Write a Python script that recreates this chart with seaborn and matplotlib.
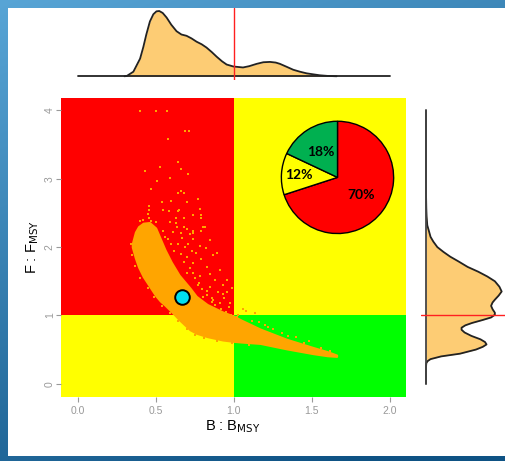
import numpy as np
import matplotlib
matplotlib.use("Agg")
import matplotlib.pyplot as plt
import seaborn as sns
import pandas as pd
from matplotlib.patches import Rectangle

sns.set_style("white")
plt.rcParams["font.family"] = ["Liberation Sans", "DejaVu Sans"]

# ---- stock status data -------------------------------------------------
# dense core of the Kobe cloud: B/Bmsy positions with lower / upper F/Fmsy edges
band_b = [0.35, 0.37, 0.39, 0.42, 0.46, 0.50, 0.53, 0.56, 0.60, 0.65, 0.72,
          0.76, 0.83, 0.93, 1.00, 1.05, 1.17, 1.34, 1.51, 1.60, 1.66]
band_f_lo = [2.00, 1.84, 1.71, 1.57, 1.43, 1.29, 1.21, 1.15, 1.06, 0.94, 0.79,
             0.74, 0.69, 0.64, 0.62, 0.61, 0.59, 0.51, 0.44, 0.41, 0.40]
band_f_hi = [2.05, 2.22, 2.30, 2.35, 2.36, 2.28, 2.12, 1.96, 1.78, 1.59, 1.40,
             1.28, 1.16, 1.05, 0.99, 0.93, 0.80, 0.65, 0.53, 0.47, 0.42]

# scattered draws outside the dense core
scatter_b = [0.40, 0.50, 0.57, 0.69, 0.715, 0.58, 0.645, 0.43, 0.53, 0.66, 0.705,
             0.594, 0.506, 0.47, 0.664, 0.645, 0.68, 0.77, 0.54, 0.596, 0.70,
             0.46, 0.65, 0.64, 0.786, 0.545, 0.585, 0.46, 0.45, 0.79, 0.68, 0.63,
             0.74, 0.79, 0.47, 0.50, 0.816, 0.59, 0.68, 0.74, 0.79, 0.55, 0.66,
             0.72, 0.56, 0.74, 0.635, 0.699, 0.741, 0.805, 0.848, 0.784, 0.891,
             0.699, 0.741, 0.827, 0.912, 0.955, 0.848, 0.784, 0.933, 0.976,
             0.869, 0.805, 0.60, 0.62, 0.66, 0.68, 0.72, 0.70, 0.75, 0.77, 0.80,
             0.83, 0.86, 0.88, 0.92, 0.95, 0.97, 0.90, 0.93, 0.96, 0.98, 1.06,
             1.08, 1.14, 1.02, 1.12, 1.20, 1.25, 1.29, 1.35, 1.45, 1.62, 0.58,
             0.64, 0.73, 0.79, 0.85, 0.88, 0.34, 0.35, 0.37, 0.40, 0.45, 0.49,
             0.54, 0.59, 0.64, 0.70, 0.75, 0.81, 0.89, 0.99, 1.10, 0.42, 0.46,
             0.40, 0.82, 0.87, 0.94, 0.99, 1.03, 1.16, 0.61, 0.67, 0.71, 0.76,
             0.63, 0.69, 0.74, 0.78, 0.83, 0.86, 0.91, 0.95, 1.04, 1.09, 1.22,
             1.31, 1.40, 1.48, 1.56]
scatter_f = [3.99, 3.99, 3.99, 3.70, 3.70, 3.58, 3.24, 3.11, 3.17, 3.14, 3.07,
             3.01, 2.97, 2.85, 2.82, 2.79, 2.79, 2.70, 2.66, 2.68, 2.66,
             2.60, 2.55, 2.53, 2.56, 2.54, 2.53, 2.55, 2.48, 2.47, 2.43, 2.43,
             2.47, 2.42, 2.38, 2.37, 2.29, 2.37, 2.30, 2.24, 2.24, 2.23, 2.20,
             2.19, 2.15, 2.12, 2.30, 2.27, 2.20, 2.30, 2.10, 2.01, 1.91,
             1.86, 1.76, 1.71, 1.66, 1.52, 1.42, 1.57, 1.32, 1.18,
             1.22, 1.27, 2.05, 1.95, 1.90, 1.78, 1.70, 1.62, 1.55, 1.45, 1.38,
             1.30, 1.25, 1.15, 1.10, 1.05, 1.12, 1.35, 1.45, 1.35, 1.00, 1.09,
             1.07, 1.04, 0.98, 0.92, 0.86, 0.80, 0.66, 0.70, 0.60, 0.48, 2.12,
             2.05, 1.95, 1.82, 1.60, 1.52, 2.05, 1.88, 1.72, 1.55, 1.40, 1.27,
             1.14, 1.04, 0.92, 0.80, 0.72, 0.67, 0.62, 0.59, 0.57, 2.40, 2.42,
             2.38, 1.98, 1.88, 1.25, 1.40, 1.00, 0.90, 2.22, 2.14, 2.04, 1.92,
             2.36, 2.00, 1.62, 1.48, 1.36, 1.20, 1.18, 0.99, 0.94, 0.88, 0.83,
             0.74, 0.68, 0.62, 0.52]

# current (terminal year) estimate
current_b = [0.667]
current_f = [1.274]

# marginal densities (relative heights)
dens_b_x = [0.30, 0.315, 0.357, 0.40, 0.421, 0.44, 0.463, 0.485, 0.505, 0.523,
            0.545, 0.57, 0.60, 0.634, 0.665, 0.698, 0.73, 0.762, 0.795, 0.826,
            0.86, 0.891, 0.925, 0.955, 0.998, 1.06, 1.10, 1.147, 1.19, 1.233,
            1.27, 1.297, 1.34, 1.382, 1.425, 1.468, 1.51, 1.553, 1.60, 1.66]
dens_b_y = [0.0, 0.005, 0.07, 0.27, 0.45, 0.64, 0.84, 0.95, 0.995, 1.0,
            0.97, 0.90, 0.79, 0.69, 0.64, 0.62, 0.58, 0.53, 0.49, 0.44,
            0.37, 0.30, 0.23, 0.18, 0.15, 0.135, 0.155, 0.19, 0.215, 0.22,
            0.21, 0.19, 0.145, 0.10, 0.07, 0.045, 0.03, 0.015, 0.006, 0.0]

dens_f_x = [0.0, 0.24, 0.30, 0.33, 0.36, 0.40, 0.44, 0.50, 0.54, 0.575, 0.61,
            0.65, 0.70, 0.75, 0.79, 0.82, 0.855, 0.89, 0.93, 0.97, 1.01, 1.04,
            1.09, 1.14, 1.19, 1.23, 1.29, 1.35, 1.42, 1.50, 1.57, 1.64, 1.71,
            1.79, 1.86, 1.93, 2.00, 2.08, 2.15, 2.23, 2.32, 2.45, 2.57, 2.75,
            3.0, 4.0]
dens_f_y = [0.0, 0.0, 0.004, 0.02, 0.06, 0.20, 0.45, 0.66, 0.75, 0.80, 0.78,
            0.72, 0.60, 0.51, 0.47, 0.47, 0.52, 0.61, 0.74, 0.86, 0.91, 0.91,
            0.88, 0.86, 0.88, 0.91, 0.96, 1.0, 0.97, 0.91, 0.81, 0.69, 0.55,
            0.43, 0.32, 0.23, 0.15, 0.097, 0.06, 0.04, 0.017, 0.008, 0.004, 0.001,
            0.0, 0.0]

# share of draws per status zone
pie_values = [70, 12, 18]
pie_colors = ["#FF0000", "#FFFF00", "#00B050"]

x_ticks = [0.0, 0.5, 1.0, 1.5, 2.0]
y_ticks = [0, 1, 2, 3, 4]

# ---- figure -------------------------------------------------------------
W, H = 505, 461
fig = plt.figure(figsize=(W / 100, H / 100), dpi=100)


def px_axes(x0, y0, x1, y1, **kw):
    """Axes placed by pixel box (top-left origin)."""
    return fig.add_axes([x0 / W, 1 - y1 / H, (x1 - x0) / W, (y1 - y0) / H], **kw)


# blue framed background
bg = fig.add_axes([0, 0, 1, 1], zorder=-10)
gx = np.linspace(0, 1, 200)
gy = np.linspace(0, 1, 200)
GX, GY = np.meshgrid(gx, gy)
t = np.clip(0.35 * GX + 0.75 * GY, 0, 1)[..., None]
light = np.array([88, 165, 214]) / 255
dark = np.array([14, 82, 132]) / 255
bg.imshow(light * (1 - t) + dark * t, aspect="auto", extent=[0, W, H, 0])
bg.add_patch(Rectangle((8, 8), W - 8, 456 - 8, facecolor="white", edgecolor="none"))
bg.set_xlim(0, W)
bg.set_ylim(H, 0)
bg.axis("off")

XLIM = (-0.107, 2.103)
YLIM = (-0.19, 4.187)
orange = "#FFA500"
fill_c = "#FDCC74"

# main Kobe panel
ax = px_axes(61, 97.7, 405.7, 396.7)
ax.set_xlim(*XLIM)
ax.set_ylim(*YLIM)
ax.add_patch(Rectangle((-1, 1), 2, 10, facecolor="#FF0000", edgecolor="none", zorder=0))
ax.add_patch(Rectangle((1, 1), 10, 10, facecolor="#FFFF00", edgecolor="none", zorder=0))
ax.add_patch(Rectangle((-1, -1), 2, 2, facecolor="#FFFF00", edgecolor="none", zorder=0))
ax.add_patch(Rectangle((1, -1), 10, 2, facecolor="#00FF00", edgecolor="none", zorder=0))

ax.fill_between(band_b, band_f_lo, band_f_hi, color=orange, linewidth=1.5,
                edgecolor=orange, zorder=2)
pts = pd.DataFrame({"B": scatter_b, "F": scatter_f})
sns.scatterplot(data=pts, x="B", y="F", ax=ax, color=orange, marker="s", s=4.5,
                linewidth=0, zorder=3)
cur = pd.DataFrame({"B": current_b, "F": current_f})
sns.scatterplot(data=cur, x="B", y="F", ax=ax, color="#00E0F0", s=110,
                edgecolor="black", linewidth=1.4, zorder=5)

ax.set_xticks(x_ticks)
ax.set_xticklabels([f"{v:.1f}" for v in x_ticks])
ax.set_yticks(y_ticks)
ax.set_yticklabels([str(v) for v in y_ticks], rotation=90, va="center")
for s in ax.spines.values():
    s.set_visible(False)
ax.tick_params(axis="both", direction="out", length=3.5, width=0.8, color="#999999",
               labelcolor="#999999", labelsize=7.5)
ax.tick_params(axis="x", pad=3.5, bottom=True)
ax.tick_params(axis="y", pad=1.0, left=True)
ax.set_xlabel("")
ax.set_ylabel("")

fig.text(233 / W, 1 - 430.5 / H, r"B : B$_{\mathrm{MSY}}$", ha="center",
         va="baseline", fontsize=10.5, color="black")
fig.text(33 / W, 1 - 247 / H, r"F : F$_{\mathrm{MSY}}$", ha="center", va="center",
         fontsize=10.5, color="black", rotation=90)

# top marginal: B/Bmsy density
axt = px_axes(61, 8, 405.7, 80)
axt.set_xlim(*XLIM)
axt.set_ylim(-0.057, 1.046)
axt.fill_between(dens_b_x, 0, dens_b_y, color=fill_c, linewidth=0)
sns.lineplot(x=dens_b_x, y=dens_b_y, ax=axt, color="#222222", linewidth=1.3,
             sort=False, estimator=None)
axt.plot([0, 2.0], [0, 0], color="#222222", linewidth=1.3)
axt.axvline(1.0, color="#FF2020", linewidth=1.0)
axt.axis("off")

# right marginal: F/Fmsy density
axr = px_axes(421, 97.7, 505, 396.7)
axr.set_ylim(*YLIM)
axr.set_xlim(-0.066, 1.044)
axr.fill_betweenx(dens_f_x, 0, dens_f_y, color=fill_c, linewidth=0)
axr.plot(dens_f_y, dens_f_x, color="#222222", linewidth=1.3)
axr.plot([0, 0], [0, 4], color="#444444", linewidth=1.3)
axr.axhline(1.0, color="#FF2020", linewidth=1.0)
axr.axis("off")

# status-zone pie
cx, cy, r = 337.5, 177.4, 56.7
axp = px_axes(cx - r, cy - r, cx + r, cy + r)
wedges, _ = axp.pie(pie_values, colors=pie_colors, startangle=90, counterclock=False,
                    wedgeprops=dict(edgecolor="black", linewidth=1.0))
label_dist = [0.52, 0.69, 0.54]
for w, v, d in zip(wedges, pie_values, label_dist):
    mid = np.deg2rad((w.theta1 + w.theta2) / 2)
    axp.text(d * np.cos(mid), d * np.sin(mid), f"{v}%", ha="center", va="center",
             fontsize=10, fontweight="bold", color="black",
             family=["Lato", "DejaVu Sans"])
axp.set_xlim(-1.01, 1.01)
axp.set_ylim(-1.01, 1.01)
axp.set_aspect("equal")

fig.savefig("out.png", dpi=100)
